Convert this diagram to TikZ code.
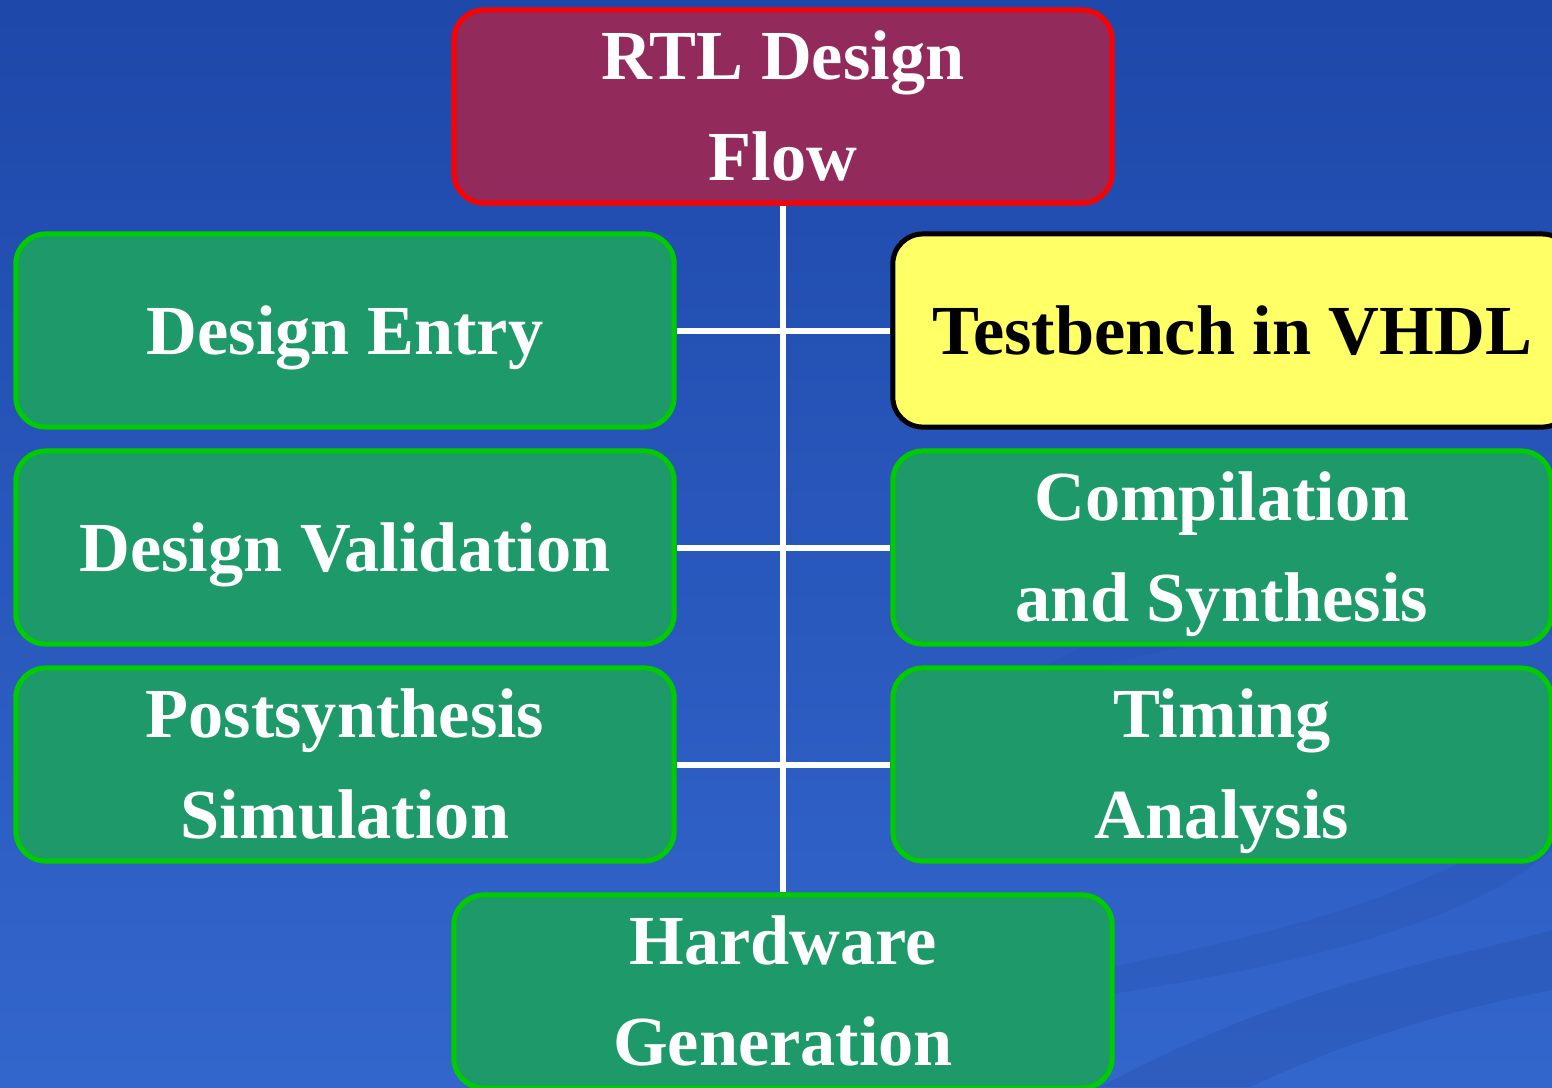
\documentclass[tikz,border=0pt]{standalone}
\usepackage{fontspec}
\setmainfont{Liberation Serif}
\usetikzlibrary{positioning}
\definecolor{bgtop}{RGB}{30,72,170}
\definecolor{bgmid}{RGB}{47,96,196}
\definecolor{bgbot}{RGB}{51,102,204}
\definecolor{swoosh}{RGB}{40,84,176}
\definecolor{maroon}{RGB}{146,43,91}
\definecolor{boxgreen}{RGB}{29,153,106}
\definecolor{edgegreen}{RGB}{0,204,0}
\definecolor{lemon}{RGB}{255,255,102}
\tikzset{
  basebox/.style={rounded corners=0.3cm, line width=0.05cm, minimum height=1.93cm,
    align=center, inner sep=0pt, text depth=0.5pt,
    font=\bfseries\fontsize{20}{28.5}\selectfont},
  greenbox/.style={basebox, draw=edgegreen, fill=boxgreen, text=white, minimum width=6.58cm},
  topbox/.style={basebox, draw=red, fill=maroon, text=white, minimum width=6.58cm},
  yellowbox/.style={basebox, draw=black, fill=lemon, text=black, minimum width=6.79cm},
  wire/.style={draw=white, line width=0.06cm}
}
\begin{document}
\begin{tikzpicture}[x=0.01cm, y=-0.01cm]
\useasboundingbox (0,0) rectangle (1552,1087);
\clip (0,0) rectangle (1552,1087);
\shade[top color=bgtop, middle color=bgmid, bottom color=bgbot] (0,0) rectangle (1552,1087);
% faint background swooshes
\fill[swoosh, opacity=0.35] (1000,700) .. controls (1100,600) and (1400,560) .. (1552,590)
  -- (1552,620) .. controls (1400,600) and (1150,640) .. (1000,700) -- cycle;
\fill[swoosh, opacity=0.45] (1100,1087) .. controls (1300,980) and (1450,960) .. (1552,930)
  -- (1552,990) .. controls (1450,1010) and (1350,1040) .. (1250,1087) -- cycle;
\fill[swoosh, opacity=0.35] (900,1000) .. controls (1200,960) and (1450,900) .. (1552,800)
  -- (1552,850) .. controls (1450,940) and (1200,990) .. (900,1020) -- cycle;

\node[topbox] (rtl) at (783,106.5) {RTL Design\\Flow};
\node[greenbox] (entry) at (345,330.5) {Design Entry};
\node[yellowbox] (tb) at (1232.5,330.5) {Testbench in VHDL};
\node[greenbox] (valid) at (345,547.5) {Design Validation};
\node[greenbox] (comp) at (1222,547.5) {Compilation\\and Synthesis};
\node[greenbox] (post) at (345,764.5) {Postsynthesis\\Simulation};
\node[greenbox] (timing) at (1222,764.5) {Timing\\Analysis};
\node[greenbox] (hw) at (783,991.5) {Hardware\\Generation};

\draw[wire] (rtl.south) -- (hw.north);
\draw[wire] (entry.east) -- (tb.west);
\draw[wire] (valid.east) -- (comp.west);
\draw[wire] (post.east) -- (timing.west);
\end{tikzpicture}
\end{document}
